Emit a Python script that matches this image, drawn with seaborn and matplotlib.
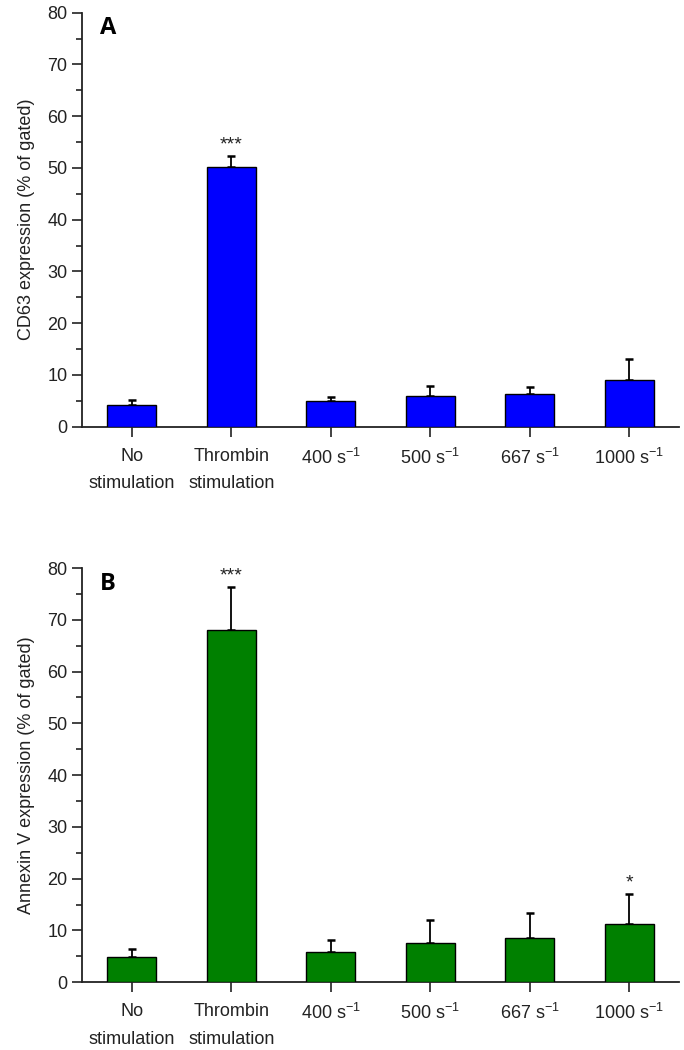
import matplotlib
matplotlib.use("Agg")
import matplotlib.pyplot as plt
import seaborn as sns
import pandas as pd
import numpy as np

categories = ["No\nstimulation", "Thrombin\nstimulation", "400 s$^{-1}$",
              "500 s$^{-1}$", "667 s$^{-1}$", "1000 s$^{-1}$"]
cd63_values = [4.2, 50.2, 5.0, 6.0, 6.3, 9.0]
cd63_err = [1.0, 2.1, 0.8, 1.9, 1.4, 4.1]
cd63_sig = ["", "***", "", "", "", ""]
annexin_values = [4.95, 68.1, 5.85, 7.5, 8.6, 11.3]
annexin_err = [1.45, 8.3, 2.35, 4.5, 4.8, 5.8]
annexin_sig = ["", "***", "", "", "", "*"]

sns.set_theme(style="ticks")
plt.rcParams['font.family'] = ['Liberation Sans', 'DejaVu Sans']
plt.rcParams['mathtext.fontset'] = 'custom'
plt.rcParams['mathtext.rm'] = 'Liberation Sans'
plt.rcParams['mathtext.it'] = 'Liberation Sans'

fig = plt.figure(figsize=(6.84, 10.5), dpi=100)
axA = fig.add_axes([0.1199, 0.5936, 0.8728, 0.3943])
axB = fig.add_axes([0.1199, 0.0645, 0.8728, 0.3945])

def panel(ax, vals, errs, sig, color, ylabel, letter):
    df = pd.DataFrame({"cat": categories, "val": vals})
    sns.barplot(data=df, x="cat", y="val", color=color, ax=ax, width=0.49,
                edgecolor="black", linewidth=1.0, saturation=1, errorbar=None, zorder=3)
    x = np.arange(len(categories))
    ax.errorbar(x, vals, yerr=[np.zeros(len(vals)), errs], fmt="none",
                ecolor="black", elinewidth=1.3, capsize=3, capthick=1.8, zorder=2)
    for xi, v, e, s in zip(x, vals, errs, sig):
        if s:
            ax.text(xi, v + e + 0.5, s, ha="center", va="bottom", fontsize=14, color="#222222")
    ax.set_xlim(-0.5, 5.5)
    ax.set_ylim(0, 80)
    ax.set_yticks(np.arange(0, 81, 10))
    ax.set_yticks(np.arange(5, 80, 10), minor=True)
    ax.set_xlabel("")
    ax.set_ylabel(ylabel, fontsize=13, color="#222222", labelpad=9)
    ax.tick_params(axis="both", which="major", direction="out", length=7, width=1.2,
                   labelsize=13, colors="#222222")
    ax.tick_params(axis="y", which="minor", direction="out", length=4, width=1.2, colors="#222222")
    ax.tick_params(axis="x", pad=8)
    for lbl in ax.get_xticklabels():
        lbl.set_linespacing(1.8)
        lbl.set_va("top")
    sns.despine(ax=ax)
    for sp in ["left", "bottom"]:
        ax.spines[sp].set_linewidth(1.3)
        ax.spines[sp].set_color("#222222")
    ax.text(-0.32, 77, letter, fontsize=17, fontweight="bold", ha="left", va="center",
            family=["Open Sans", "DejaVu Sans"], color="black")

panel(axA, cd63_values, cd63_err, cd63_sig, "#0000FF", "CD63 expression (% of gated)", "A")
panel(axB, annexin_values, annexin_err, annexin_sig, "#008000", "Annexin V expression (% of gated)", "B")

fig.savefig("out.png", dpi=100, facecolor="white")
